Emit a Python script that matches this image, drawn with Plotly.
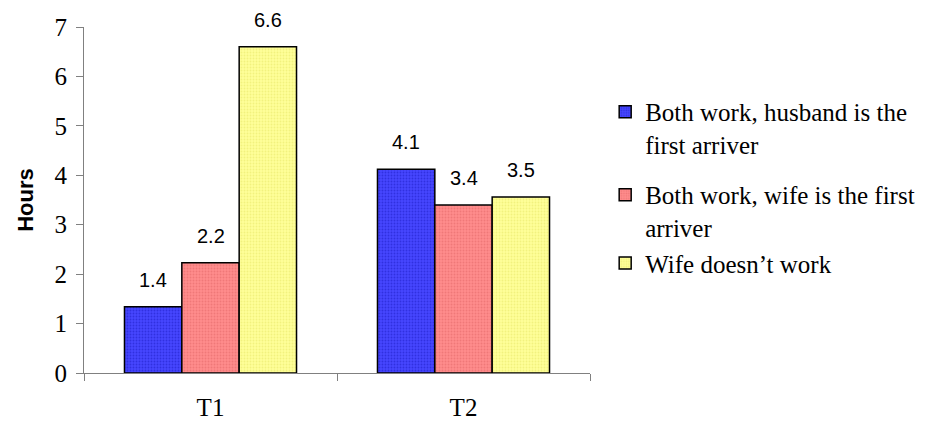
import plotly.graph_objects as go

categories = ["T1", "T2"]
series_names = [
    "Both work, husband is the<br>first arriver",
    "Both work, wife is the first<br>arriver",
    "Wife doesn’t work",
]
husband_first = [1.34, 4.12]
wife_first = [2.23, 3.40]
wife_not_work = [6.60, 3.56]
label_husband = ["1.4", "4.1"]
label_wife = ["2.2", "3.4"]
label_notwork = ["6.6", "3.5"]
y_ticks = [0, 1, 2, 3, 4, 5, 6, 7]

series_values = [husband_first, wife_first, wife_not_work]
series_labels = [label_husband, label_wife, label_notwork]
colors = ["#4646FF", "#FF8C8C", "#FFFF99"]
fg = ["#3030E0", "#F07878", "#F2F27E"]
legend_ids = ["legend", "legend", "legend2"]

SERIF = "Liberation Serif"
SANS = "Liberation Sans"

bargap = 0.32
fig = go.Figure()
for i, (name, vals) in enumerate(zip(series_names, series_values)):
    fig.add_trace(go.Bar(
        x=categories, y=vals, name=name, legendgroup=f"g{i}", legend=legend_ids[i],
        marker=dict(color=colors[i], line=dict(color="#000000", width=1.5),
                    pattern=dict(shape=".", size=3, solidity=0.3,
                                 fgcolor=fg[i], bgcolor=colors[i], fillmode="replace")),
    ))

bw = (1 - bargap) / 3
annotations = []
for i, (vals, labs) in enumerate(zip(series_values, series_labels)):
    for j, (v, t) in enumerate(zip(vals, labs)):
        annotations.append(dict(
            x=j + (i - 1) * bw, y=v, xref="x", yref="y", text=t,
            showarrow=False, yshift=27,
            font=dict(family=SANS, size=20, color="#000000"),
        ))

legend_font = dict(family=SERIF, size=25, color="#000000")
fig.update_layout(
    width=925, height=423,
    font=dict(family=SERIF, color="#000000"),
    margin=dict(l=84, r=335, t=27, b=50, autoexpand=False),
    paper_bgcolor="white", plot_bgcolor="white",
    barmode="group", bargap=bargap, bargroupgap=0,
    annotations=annotations,
    showlegend=True,
    legend=dict(
        x=1.030, y=0.821, xanchor="left", yanchor="top",
        font=legend_font, tracegroupgap=15, valign="top", bgcolor="rgba(0,0,0,0)",
    ),
    legend2=dict(
        x=1.030, y=0.384, xanchor="left", yanchor="top",
        font=legend_font, valign="top", bgcolor="rgba(0,0,0,0)",
    ),
    xaxis=dict(
        showline=True, linecolor="#808080", linewidth=1,
        ticks="outside", tickson="boundaries", ticklen=7, tickcolor="#808080",
        showgrid=False, zeroline=False,
        tickfont=dict(family=SERIF, size=25, color="#000000"),
        ticklabelstandoff=12, automargin=False,
    ),
    yaxis=dict(
        range=[0, 7], tickvals=y_ticks,
        showline=True, linecolor="#808080", linewidth=1,
        ticks="outside", ticklen=7, tickcolor="#808080",
        showgrid=False, zeroline=False,
        tickfont=dict(family=SERIF, size=25, color="#000000"),
        ticklabelstandoff=4, automargin=False,
        title=dict(text="<b>Hours</b>", standoff=14,
                   font=dict(family=SANS, size=22, color="#000000")),
    ),
)

fig.write_html("out.html")
